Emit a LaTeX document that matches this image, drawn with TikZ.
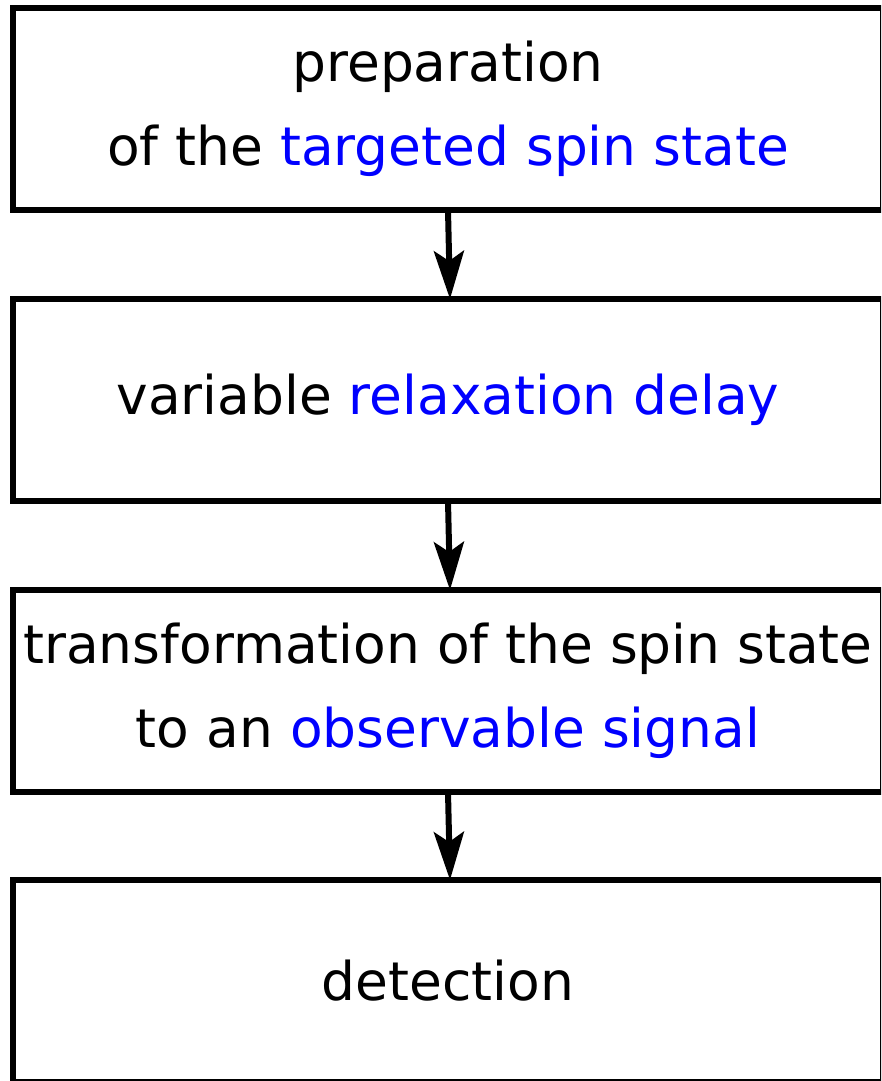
\documentclass[tikz,border=0pt]{standalone}
\usepackage{fontspec}
\setmainfont{DejaVu Sans}
\usetikzlibrary{arrows.meta}
\definecolor{hl}{RGB}{0,0,255}
\tikzset{
  stage/.style={draw=black, line width=6pt, minimum width=870pt, minimum height=202pt,
    inner sep=0pt, outer sep=0pt, align=center, font=\fontsize{53.4}{84}\selectfont},
  flow/.style={line width=6pt, -{Stealth[length=48pt,width=30pt,inset=10pt]}}
}
\begin{document}
\begin{tikzpicture}[x=1pt,y=1pt]
\useasboundingbox (0,0) rectangle (881,-1081);
\clip (0,0) rectangle (881,-1081);
\node[stage] (b1) at (448,-109) {preparation\\of the \textcolor{hl}{targeted spin state}};
\node[stage] (b2) at (448,-400) {variable \textcolor{hl}{relaxation delay}};
\node[stage] (b3) at (448,-691) {transformation of the spin state\\to an \textcolor{hl}{observable signal}};
\node[stage] (b4) at (448,-981) {detection};
\draw[flow] (b1.south) -- ([xshift=2pt]b2.north);
\draw[flow] (b2.south) -- ([xshift=2pt]b3.north);
\draw[flow] (b3.south) -- ([xshift=2pt]b4.north);
\end{tikzpicture}
\end{document}
